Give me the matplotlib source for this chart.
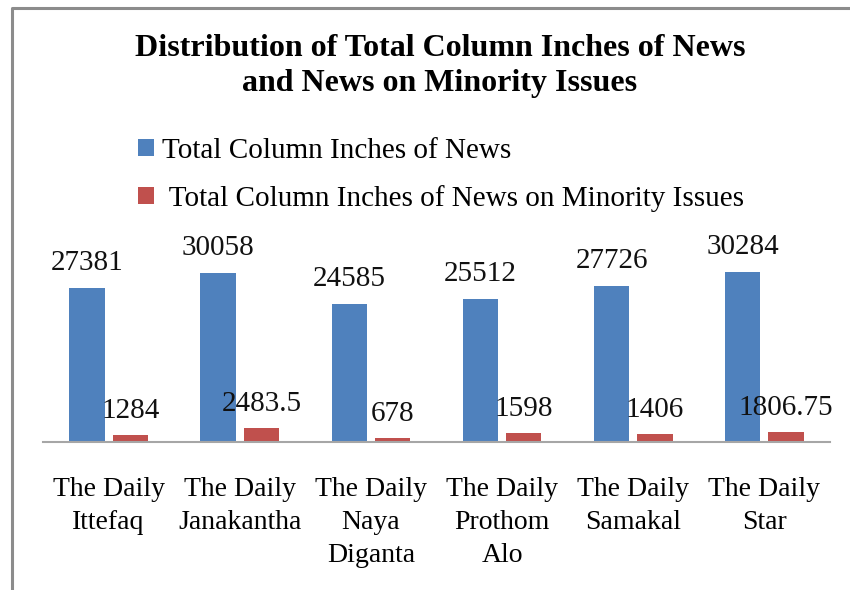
import matplotlib
matplotlib.use("Agg")
import matplotlib.pyplot as plt
from matplotlib.lines import Line2D
import numpy as np

categories = ["The Daily\nIttefaq", "The Daily\nJanakantha", "The Daily\nNaya\nDiganta",
              "The Daily\nProthom\nAlo", "The Daily\nSamakal", "The Daily\nStar"]
total_news = [27381, 30058, 24585, 25512, 27726, 30284]
minority_news = [1284, 2483.5, 678, 1598, 1406, 1806.75]
total_labels = ["27381", "30058", "24585", "25512", "27726", "30284"]
minority_labels = ["1284", "2483.5", "678", "1598", "1406", "1806.75"]
series_names = ["Total Column Inches of News", " Total Column Inches of News on Minority Issues"]
title = "Distribution of Total Column Inches of News\nand News on Minority Issues"

W, H = 850, 590
fig = plt.figure(figsize=(W / 100, H / 100), dpi=100)
plt.rcParams['font.family'] = ['Liberation Serif', 'DejaVu Serif']

def fx(px):
    return px / W

def fy(py):
    return 1 - py / H

# axes: x 43..830, y 250..442 (px from top)
ax = fig.add_axes([fx(43), fy(442), fx(830 - 43), (442 - 250) / H])
x = np.arange(len(categories))
bw = 0.27
off = 0.165
blue = "#4F81BD"
red = "#C0504D"
b1 = ax.bar(x - off, total_news, bw, color=blue, label=series_names[0])
b2 = ax.bar(x + off, minority_news, bw, color=red, label=series_names[1])
ax.set_xlim(-0.5, len(categories) - 0.5)
ax.set_ylim(0, 34140)

for xi, v, lab in zip(x, total_news, total_labels):
    ax.annotate(lab, (xi - off, v), xytext=(0, 8.5), textcoords="offset points",
                ha="center", va="bottom", fontsize=21, color="#111111")
for xi, v, lab in zip(x, minority_news, minority_labels):
    ax.annotate(lab, (xi + off, v), xytext=(0, 8), textcoords="offset points",
                ha="center", va="bottom", fontsize=21, color="#111111")

for s in ["top", "right", "left"]:
    ax.spines[s].set_visible(False)
ax.spines["bottom"].set_color("#A6A6A6")
ax.spines["bottom"].set_linewidth(1.5)
ax.set_yticks([])
ax.set_xticks(x)
ax.set_xticklabels(categories, fontsize=20, linespacing=1.43)
ax.tick_params(axis="x", length=0, pad=25)

fig.text(fx(440), fy(66), title, ha="center", va="center", fontsize=23,
         fontweight="bold", linespacing=1.30)

leg = fig.legend(handles=[b1, b2], labels=series_names, loc="upper left",
                 bbox_to_anchor=(fx(138), fy(138)), frameon=False, fontsize=21,
                 handlelength=0.55, handleheight=0.55, handletextpad=0.27,
                 labelspacing=0.72, borderpad=0, borderaxespad=0)

# border
fig.add_artist(Line2D([fx(12), fx(12), 1.0], [0.0, fy(8), fy(8)],
                      color="#8C8C8C", linewidth=2.2, transform=fig.transFigure))

fig.savefig("out.png", dpi=100)
